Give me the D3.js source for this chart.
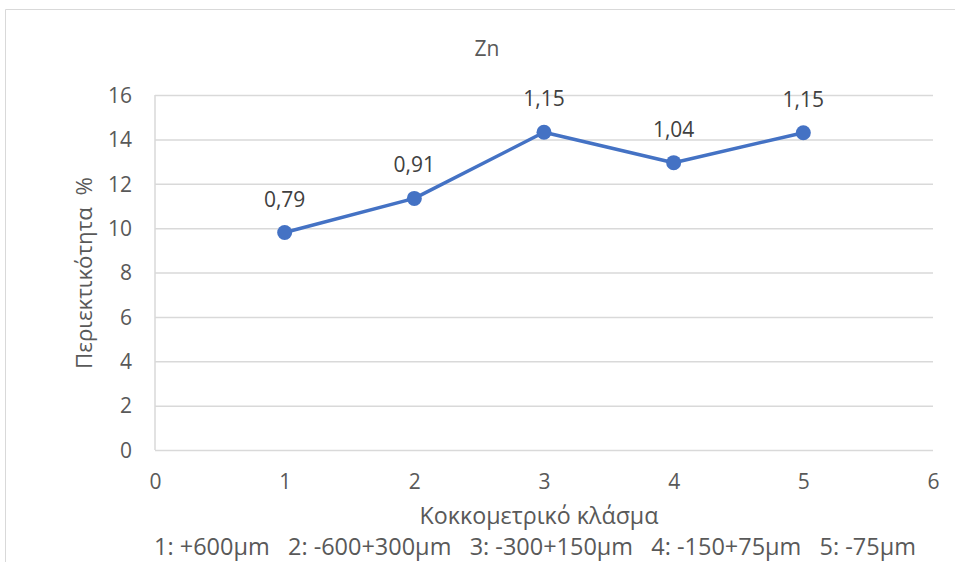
<!DOCTYPE html>
<html>
<head>
<meta charset="utf-8">
<script src="https://cdn.jsdelivr.net/npm/d3@7"></script>
<style>
  html, body { margin: 0; padding: 0; background: #fff; }
  svg { display: block; font-family: "Open Sans", "Noto Sans", sans-serif; }
</style>
</head>
<body>
<svg id="chart" width="955" height="562"></svg>
<script>
// Particle-size fractions (x), Zn content (y) and the stated data labels
const fractions = [1, 2, 3, 4, 5];
const znContent = [9.8, 11.34, 14.32, 12.95, 14.3];
const pointLabels = ["0,79", "0,91", "1,15", "1,04", "1,15"];
const xTicks = [0, 1, 2, 3, 4, 5, 6];
const yTicks = [0, 2, 4, 6, 8, 10, 12, 14, 16];
const chartTitle = "Zn";
const xTitle = "Κοκκομετρικό κλάσμα";
const yTitle = "Περιεκτικότητα  %";
const fractionKey = "1: +600μm   2: -600+300μm   3: -300+150μm   4: -150+75μm   5: -75μm";

const svg = d3.select("#chart");
const textColor = "#595959";
const gridColor = "#d9d9d9";
const lineColor = "#4472c4";

// scale a text element's font size so that it spans the given width
function fitWidth(sel, width) {
  const node = sel.node();
  const size = parseFloat(sel.attr("font-size"));
  const len = node.getComputedTextLength();
  if (len > 0) sel.attr("font-size", (size * width / len).toFixed(2));
  return sel;
}

// chart frame
svg.append("path")
  .attr("d", "M5.5,570 V9.5 H960")
  .attr("fill", "none")
  .attr("stroke", gridColor)
  .attr("stroke-width", 1);

const x = d3.scaleLinear().domain([0, 6]).range([155, 933]);
const y = d3.scaleLinear().domain([0, 16]).range([450, 95]);

// horizontal gridlines + y tick labels
svg.append("g")
  .attr("transform", `translate(${x(0)},0)`)
  .call(d3.axisLeft(y).tickValues(yTicks).tickSize(-(x(6) - x(0))).tickFormat(d => d).tickPadding(23))
  .call(g => g.select(".domain").remove())
  .call(g => g.selectAll(".tick line").attr("stroke", gridColor).attr("stroke-width", 1.5))
  .call(g => g.selectAll(".tick text")
    .attr("fill", textColor).attr("font-size", 21)
    .attr("font-family", "'Open Sans', sans-serif").attr("dy", "0.35em"));

// vertical axis line
svg.append("line")
  .attr("x1", x(0)).attr("x2", x(0))
  .attr("y1", y(0)).attr("y2", y(16))
  .attr("stroke", gridColor).attr("stroke-width", 1.5);

// x tick labels
svg.append("g")
  .attr("transform", `translate(0,${y(0)})`)
  .call(d3.axisBottom(x).tickValues(xTicks).tickSize(0).tickFormat(d => d))
  .call(g => g.select(".domain").remove())
  .call(g => g.selectAll(".tick text")
    .attr("y", 39).attr("dy", 0)
    .attr("fill", textColor).attr("font-size", 21)
    .attr("font-family", "'Open Sans', sans-serif"));

// series line
const line = d3.line().x((d, i) => x(fractions[i])).y(d => y(d));
svg.append("path")
  .datum(znContent)
  .attr("d", line)
  .attr("fill", "none")
  .attr("stroke", lineColor)
  .attr("stroke-width", 3.5)
  .attr("stroke-linejoin", "round");

svg.append("g").selectAll("circle")
  .data(znContent)
  .join("circle")
  .attr("cx", (d, i) => x(fractions[i]))
  .attr("cy", d => y(d))
  .attr("r", 7.5)
  .attr("fill", lineColor);

// data labels
svg.append("g").selectAll("text")
  .data(znContent)
  .join("text")
  .attr("x", (d, i) => x(fractions[i]))
  .attr("y", d => y(d) - 26)
  .attr("text-anchor", "middle")
  .attr("font-size", 21)
  .attr("fill", "#404040")
  .text((d, i) => pointLabels[i]);

// titles
svg.append("text")
  .attr("x", 487).attr("y", 56)
  .attr("text-anchor", "middle")
  .attr("font-size", 21)
  .attr("fill", textColor)
  .text(chartTitle);

fitWidth(svg.append("text")
  .attr("x", 539).attr("y", 524)
  .attr("text-anchor", "middle")
  .attr("font-size", 20)
  .attr("fill", textColor)
  .text(xTitle), 239);

fitWidth(svg.append("text")
  .attr("x", 535).attr("y", 555)
  .attr("text-anchor", "middle")
  .attr("font-size", 20)
  .attr("fill", textColor)
  .attr("xml:space", "preserve")
  .style("white-space", "pre")
  .text(fractionKey), 762);

fitWidth(svg.append("text")
  .attr("transform", `translate(92,273) rotate(-90)`)
  .attr("text-anchor", "middle")
  .attr("font-size", 20)
  .attr("fill", textColor)
  .attr("xml:space", "preserve")
  .style("white-space", "pre")
  .text(yTitle), 192);
</script>
</body>
</html>
